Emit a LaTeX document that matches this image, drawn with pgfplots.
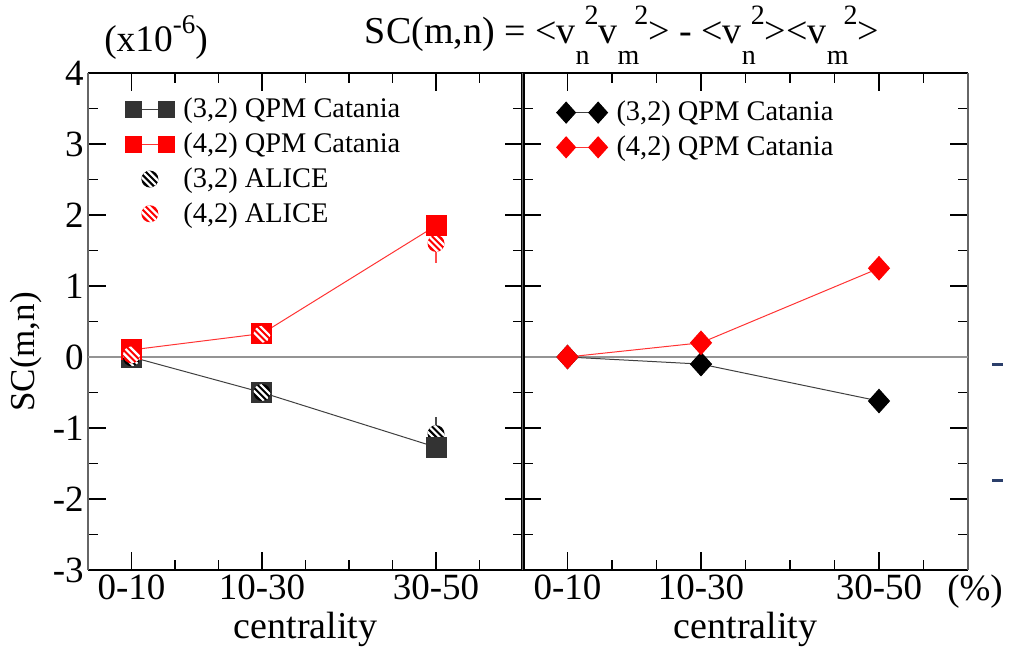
\documentclass[border=0pt]{standalone}
\usepackage{fontspec}
\setmainfont{Liberation Serif}
\usepackage{pgfplots}
\pgfplotsset{compat=1.18}

\pgfdeclareplotmark{hcirc}{%
  \pgfpathcircle{\pgfpointorigin}{\pgfplotmarksize}\pgfusepathqfill
  \begin{pgfscope}
    \pgfpathcircle{\pgfpointorigin}{\pgfplotmarksize}\pgfusepathqclip
    \pgfsetstrokecolor{white}\pgfsetlinewidth{1.1pt}%
    \pgfpathmoveto{\pgfqpoint{-3.1pt}{3.1pt}}\pgfpathlineto{\pgfqpoint{3.1pt}{-3.1pt}}%
    \pgfpathmoveto{\pgfqpoint{-1.0pt}{4.2pt}}\pgfpathlineto{\pgfqpoint{4.2pt}{-1.0pt}}%
    \pgfpathmoveto{\pgfqpoint{-4.2pt}{1.0pt}}\pgfpathlineto{\pgfqpoint{1.0pt}{-4.2pt}}%
    \pgfusepathqstroke
  \end{pgfscope}
}
\pgfdeclareplotmark{rhomb}{%
  \pgfpathmoveto{\pgfqpoint{0pt}{\pgfplotmarksize}}%
  \pgfpathlineto{\pgfqpoint{0.9\pgfplotmarksize}{0pt}}%
  \pgfpathlineto{\pgfqpoint{0pt}{-\pgfplotmarksize}}%
  \pgfpathlineto{\pgfqpoint{-0.9\pgfplotmarksize}{0pt}}%
  \pgfpathclose\pgfusepathqfillstroke
}

\newcommand{\vv}[1]{v\raisebox{-10.5pt}{\fontsize{14}{14}\selectfont #1}\hspace{-2.5pt}\raisebox{9.5pt}{\fontsize{14}{14}\selectfont 2}}

\pgfplotsset{
  panel/.style={
    scale only axis, height=248.5pt,
    xmin=0, xmax=50, ymin=-3, ymax=4,
    xtick={5,20,40}, xticklabels={0-10,10-30,30-50},
    minor xtick={10,15,25,30,35,45},
    ytick={-3,-2,-1,0,1,2,3,4},
    yticklabels={-3,-2,-1,0,1,2,3,4},
    minor ytick={-2.5,-1.5,-0.5,0.5,1.5,2.5,3.5},
    major tick length=9pt, minor tick length=5pt,
    every tick/.style={black, line width=0.8pt},
    separate axis lines,
    every outer x axis line/.append style={black, line width=1pt},
    every outer y axis line/.append style={black!60, line width=1pt},
    tick label style={font=\fontsize{18.5}{20}\selectfont, inner sep=2pt},
    legend style={draw=none, fill=none, font=\fontsize{14.2}{16}\selectfont,
      row sep=2pt, column sep=2.5pt, inner sep=0pt, cells={anchor=west}},
    legend cell align=left,
    qpm/.style={line width=0.5pt, mark=square*, mark size=5pt,
      legend image code/.code={\draw[##1, mark size=4pt] plot coordinates {(0pt,0pt)(16.5pt,0pt)};}},
    alice/.style={only marks, mark=hcirc, mark size=4.25pt,
      legend image code/.code={\draw[##1] plot coordinates {(8.25pt,0pt)};}},
    rh/.style={line width=0.5pt, mark=rhomb, mark size=5.8pt,
      legend image code/.code={\draw[##1, mark size=5.2pt] plot coordinates {(0pt,0pt)(16pt,0pt)};}},
  }
}

\begin{document}
\begin{tikzpicture}
\begin{axis}[panel, width=217.5pt, at={(0pt,0pt)}, anchor=south west,
  legend style={at={(axis description cs:0.085,0.958)}, anchor=north west}]
  \addplot[black!42, line width=0.8pt, forget plot] coordinates {(0,0) (50,0)};
  \addplot[qpm, black!75, mark options={fill=black!80, draw=black!80}]
    coordinates {(5,0.0) (20,-0.5) (40,-1.27)};
  \addlegendentry{(3,2) QPM Catania}
  \addplot[qpm, red!80, mark options={fill=red, draw=red}]
    coordinates {(5,0.1) (20,0.33) (40,1.85)};
  \addlegendentry{(4,2) QPM Catania}
  \addplot[alice, black, mark options={fill=black},
    error bars/.cd, y dir=both, y explicit, error mark=none,
    error bar style={black!70, line width=0.6pt}]
    coordinates {(5,-0.01) +- (0,0) (20,-0.5) +- (0,0) (40,-1.08) +- (0,0.24)};
  \addlegendentry{(3,2) ALICE}
  \addplot[alice, red, mark options={fill=red},
    error bars/.cd, y dir=both, y explicit, error mark=none,
    error bar style={red!70, line width=0.6pt}]
    coordinates {(5,0.03) +- (0,0) (20,0.32) +- (0,0) (40,1.6) +- (0,0.27)};
  \addlegendentry{(4,2) ALICE}
  \addplot[only marks, mark=square*, mark size=5pt, mark options={fill=black!80, draw=black!80}, forget plot]
    coordinates {(40,-1.27)};
  \addplot[only marks, mark=square*, mark size=5pt, mark options={fill=red, draw=red}, forget plot]
    coordinates {(40,1.85)};
  \draw[black, line width=1.6pt] (rel axis cs:1,0) -- (rel axis cs:1,1);
\end{axis}
\begin{axis}[panel, width=222.5pt, at={(217.5pt,0pt)}, anchor=south west,
  yticklabels={},
  legend style={at={(axis description cs:0.075,0.952)}, anchor=north west}]
  \addplot[black!42, line width=0.8pt, forget plot] coordinates {(0,0) (50,0)};
  \addplot[rh, black!75, mark options={fill=black, draw=black}]
    coordinates {(5,0.0) (20,-0.1) (40,-0.62)};
  \addlegendentry{(3,2) QPM Catania}
  \addplot[rh, red!80, mark options={fill=red, draw=red}]
    coordinates {(5,0.0) (20,0.2) (40,1.25)};
  \addlegendentry{(4,2) QPM Catania}
  \draw[black, line width=1.6pt] (rel axis cs:0,0) -- (rel axis cs:0,1);
\end{axis}
% labels
\node[rotate=90, font=\fontsize{17.5}{20}\selectfont] at (-31pt,109pt) {SC(m,n)};
\node[anchor=base, font=\fontsize{19}{22}\selectfont] at (108.75pt,-34pt) {centrality};
\node[anchor=base, font=\fontsize{19}{22}\selectfont] at (328.75pt,-34pt) {centrality};
\node[anchor=north, inner sep=2pt, font=\fontsize{18.5}{20}\selectfont] at (443.5pt,0pt) {(\%)};
\node[anchor=base, font=\fontsize{18.7}{20}\selectfont] at (34pt,259pt) {(x10\raisebox{0.5em}{\fontsize{13.5}{14}\selectfont -6})};
\node[anchor=base, font=\fontsize{19}{22}\selectfont] at (267pt,263pt)
  {SC(m,n) = <\vv{n}\vv{m}> - <\vv{n}><\vv{m}>};
\draw[color={rgb,255:red,43;green,63;blue,107}, line width=1.5pt] (452pt,103pt) -- (457.5pt,103pt);
\draw[color={rgb,255:red,43;green,63;blue,107}, line width=1.5pt] (452pt,45pt) -- (457.5pt,45pt);
\pgfresetboundingbox
\path[use as bounding box] (-44pt,-39.5pt) rectangle (462pt,285pt);
\end{tikzpicture}
\end{document}
